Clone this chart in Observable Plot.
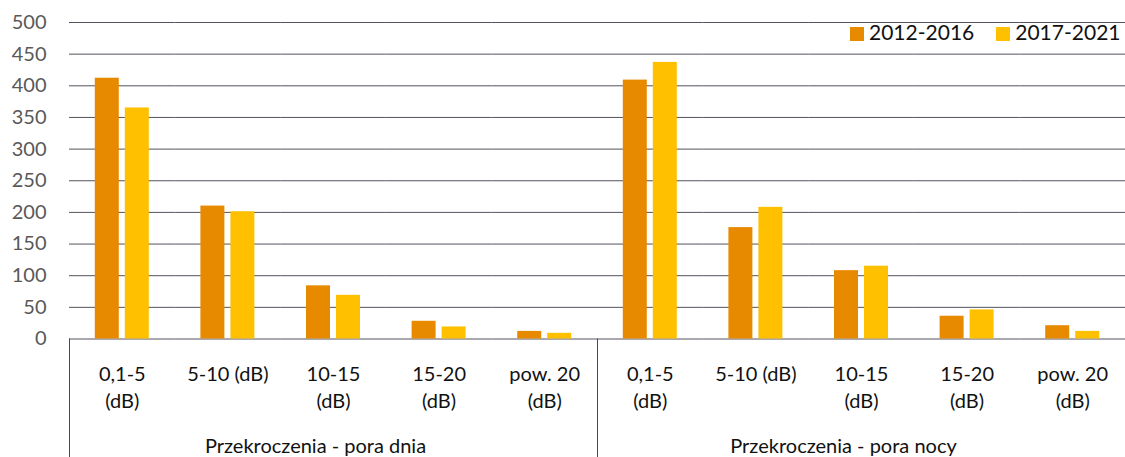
<!DOCTYPE html>
<html>
<head>
<meta charset="utf-8">
<script src="https://cdn.jsdelivr.net/npm/d3@7"></script>
<script src="https://cdn.jsdelivr.net/npm/@observablehq/plot@0.6"></script>
<style>
  html, body { margin: 0; padding: 0; background: #fff; }
  body { font-family: Lato, "Open Sans", sans-serif; }
  #wrap { position: relative; width: 1125px; height: 457px; overflow: hidden; }
  #legend { position: absolute; top: 21px; left: 850px; display: flex; align-items: flex-start;
            font-size: 21px; line-height: 21px; color: #111; white-space: nowrap; }
  #legend .item { display: flex; align-items: flex-start; margin-right: 22px; }
  #legend .sw { width: 14px; height: 14px; margin-top: 6px; margin-right: 5px; }
</style>
</head>
<body>
<div id="wrap"><div id="chart"></div><div id="legend"></div></div>
<script>
// ---- data ----
const groups = ["Przekroczenia - pora dnia", "Przekroczenia - pora nocy"];
const categories = ["0,1-5", "5-10", "10-15", "15-20", "pow. 20"];
const categoryLabels = ["0,1-5\n(dB)", "5-10 (dB)", "10-15\n(dB)", "15-20\n(dB)", "pow. 20\n(dB)"];
const series = ["2012-2016", "2017-2021"];
const seriesColors = ["#E88A00", "#FFC000"];
const day2012 = [412, 210, 84, 28, 12];
const day2017 = [365, 201, 69, 19, 9];
const night2012 = [409, 176, 108, 36, 21];
const night2017 = [437, 208, 115, 46, 12];
const yTicks = [0, 50, 100, 150, 200, 250, 300, 350, 400, 450, 500];

// ---- build tables ----
const valuesByGroup = [[day2012, day2017], [night2012, night2017]];
const keyOf = (g, c) => groups[g] + "|" + categories[c];
const keys = [];
const rows = [];
const labelRows = [];
groups.forEach((g, gi) => {
  categories.forEach((c, ci) => {
    const key = keyOf(gi, ci);
    keys.push(key);
    labelRows.push({key, label: categoryLabels[ci]});
    series.forEach((s, si) => rows.push({key, series: s, value: valuesByGroup[gi][si][ci]}));
  });
});
const groupRows = groups.map((g, gi) => ({key: keyOf(gi, 2), label: g}));

const W = 1125, H = 457;
const chart = Plot.plot({
  width: W,
  height: H,
  marginLeft: 69,
  marginRight: 0,
  marginTop: 22,
  marginBottom: 118.5,
  style: {fontFamily: "Lato, 'Open Sans', sans-serif", background: "#fff", overflow: "visible"},
  fx: {domain: keys, padding: 0, axis: null, round: false},
  x: {domain: series, paddingInner: 0.2, paddingOuter: 0.86, axis: null, round: false},
  y: {domain: [0, 500], ticks: yTicks, axis: null},
  color: {domain: series, range: seriesColors},
  marks: [
    Plot.ruleY(yTicks, {stroke: "#53535e", strokeWidth: 1}),
    Plot.barY(rows, {fx: "key", x: "series", y: "value", fill: "series"}),
    Plot.axisY(yTicks, {tickSize: 0, tickPadding: 23, fontSize: 20, fill: "#595959", anchor: "left", label: null}),
    Plot.text(labelRows, {fx: "key", text: "label", frameAnchor: "bottom", lineAnchor: "top",
                          dy: 23, lineHeight: 1.35, fontSize: 20, fill: "#111"}),
    Plot.text(groupRows, {fx: "key", text: "label", frameAnchor: "bottom", lineAnchor: "top",
                          dy: 99.5, dx: -18, fontSize: 20, fill: "#111"})
  ]
});
document.getElementById("chart").appendChild(chart);

// group separator lines below the baseline, positioned with the chart's own fx / y scales
const fxs = chart.scale("fx");
const fxBand = d3.scaleBand().domain(fxs.domain).range(fxs.range)
  .paddingInner(fxs.paddingInner || 0).paddingOuter(fxs.paddingOuter || 0).align(fxs.align ?? 0.5);
const ys = chart.scale("y");
const yLin = d3.scaleLinear().domain(ys.domain).range(ys.range);
const sepX = groups.map((g, gi) => fxBand(keyOf(gi, 0))).concat([fxBand.range()[1]]);
d3.select(chart).append("g")
  .selectAll("line").data(sepX).join("line")
  .attr("x1", d => Math.round(d) + 0.5).attr("x2", d => Math.round(d) + 0.5)
  .attr("y1", yLin(0)).attr("y2", H)
  .attr("stroke", "#4a4a55").attr("stroke-width", 1);

// legend
const legend = d3.select("#legend");
series.forEach((s, i) => {
  const item = legend.append("div").attr("class", "item");
  item.append("div").attr("class", "sw").style("background", seriesColors[i]);
  item.append("span").text(s);
});
</script>
</body>
</html>
